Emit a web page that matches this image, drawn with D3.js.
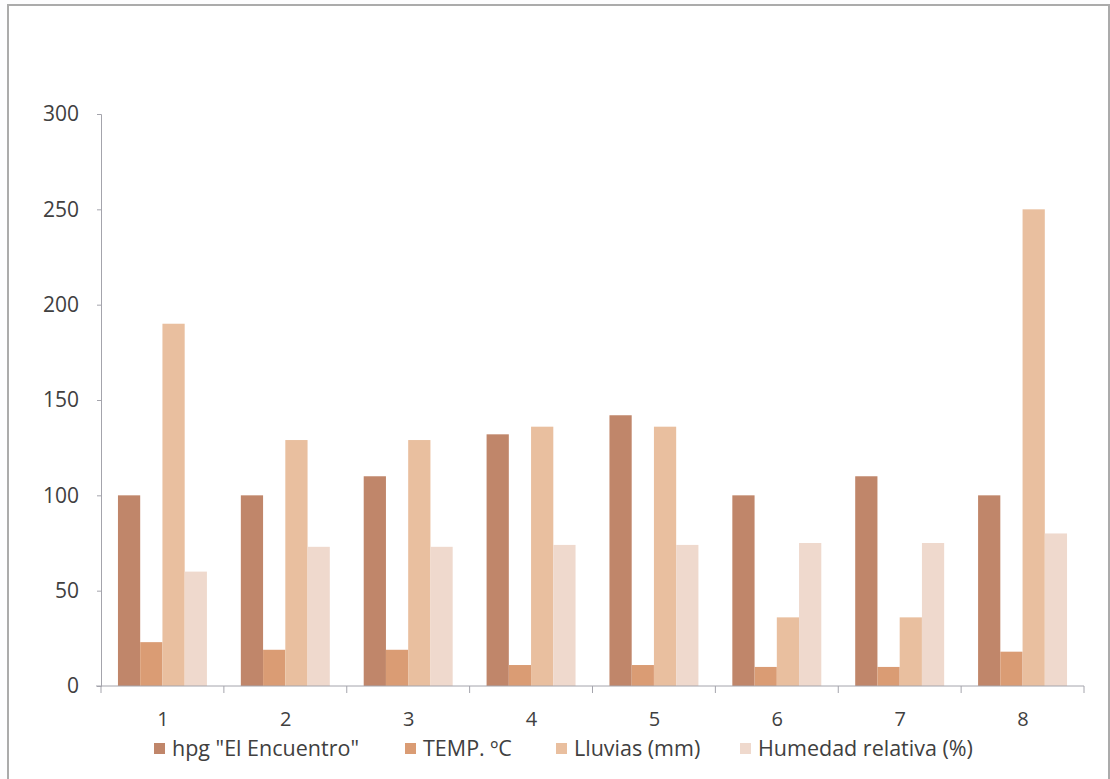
<!DOCTYPE html>
<html>
<head>
<meta charset="utf-8">
<script src="https://cdn.jsdelivr.net/npm/d3@7"></script>
<style>
  html, body { margin: 0; padding: 0; background: #fdfdfe; }
  svg { display: block; }
  text { font-family: "Open Sans", Lato, sans-serif; fill: #404040; }
</style>
</head>
<body>
<script>
// Months / sampling points along the x axis
const categories = ["1", "2", "3", "4", "5", "6", "7", "8"];

// Series values per sampling point
const hpg      = [100, 100, 110, 132, 142, 100, 110, 100];
const temp     = [23, 19, 19, 11, 11, 10, 10, 18];
const lluvias  = [190, 129, 129, 136, 136, 36, 36, 250];
const humedad  = [60, 73, 73, 74, 74, 75, 75, 80];

const seriesNames = ['hpg "El Encuentro"', "TEMP. ºC", "Lluvias (mm)", "Humedad relativa (%)"];
const yTicks = [0, 50, 100, 150, 200, 250, 300];

const seriesValues = [hpg, temp, lluvias, humedad];
const colors = ["#c0866a", "#da9c74", "#e9bf9f", "#efd9cd"];

const W = 1110, H = 779;
const margin = { left: 101, right: 26, top: 114, bottom: 93 };

const svg = d3.select("body").append("svg")
  .attr("width", W).attr("height", H);

// outer frame
svg.append("rect")
  .attr("x", 8).attr("y", 5)
  .attr("width", W - 9).attr("height", H - 4)
  .attr("fill", "#ffffff").attr("stroke", "#ababab").attr("stroke-width", 2);

const x = d3.scaleBand()
  .domain(categories)
  .range([margin.left, W - margin.right])
  .paddingInner(0.276)
  .paddingOuter(0.138);

const xs = d3.scaleBand()
  .domain(d3.range(seriesNames.length))
  .range([0, x.bandwidth()]);

const y = d3.scaleLinear()
  .domain([0, 300])
  .range([H - margin.bottom, margin.top]);

// bars
const groups = svg.append("g").selectAll("g")
  .data(categories)
  .join("g")
  .attr("transform", d => `translate(${x(d)},0)`);

groups.selectAll("rect")
  .data((d, i) => seriesValues.map((vals, s) => ({ s, v: vals[i] })))
  .join("rect")
  .attr("x", d => xs(d.s))
  .attr("width", xs.bandwidth())
  .attr("y", d => y(d.v))
  .attr("height", d => y(0) - y(d.v))
  .attr("fill", d => colors[d.s]);

// y axis
const yAxis = svg.append("g")
  .attr("transform", `translate(${margin.left},0)`)
  .call(d3.axisLeft(y).tickValues(yTicks).tickSize(4).tickPadding(18));
yAxis.select(".domain").attr("stroke", "#a4a4ac");
yAxis.selectAll(".tick line").attr("stroke", "#a4a4ac");
yAxis.selectAll(".tick text")
  .style("font-size", "21px").attr("fill", "#404040");

// x axis with boundary ticks between categories
const xAxisG = svg.append("g")
  .attr("transform", `translate(0,${y(0)})`);
xAxisG.append("line")
  .attr("x1", margin.left - 5).attr("x2", W - margin.right)
  .attr("stroke", "#a4a4ac");
const step = x.step();
const bounds = d3.range(categories.length + 1).map(i => margin.left + i * step);
xAxisG.selectAll("line.bt")
  .data(bounds)
  .join("line")
  .attr("class", "bt")
  .attr("x1", d => d).attr("x2", d => d)
  .attr("y1", 0).attr("y2", 7)
  .attr("stroke", "#a4a4ac");
xAxisG.selectAll("text")
  .data(categories)
  .join("text")
  .attr("x", d => x(d) + x.bandwidth() / 2 + 0.5)
  .attr("y", 40)
  .attr("text-anchor", "middle")
  .style("font-size", "20px")
  .text(d => d);

// legend
const legendX = [154, 405, 556, 740];
const legend = svg.append("g").attr("transform", "translate(0,743)");
const items = legend.selectAll("g")
  .data(seriesNames)
  .join("g")
  .attr("transform", (d, i) => `translate(${legendX[i]},0)`);
items.append("rect")
  .attr("width", 11).attr("height", 11)
  .attr("fill", (d, i) => colors[i]);
items.append("text")
  .attr("x", 18).attr("y", 13)
  .style("font-size", "21.5px")
  .text(d => d);
</script>
</body>
</html>
